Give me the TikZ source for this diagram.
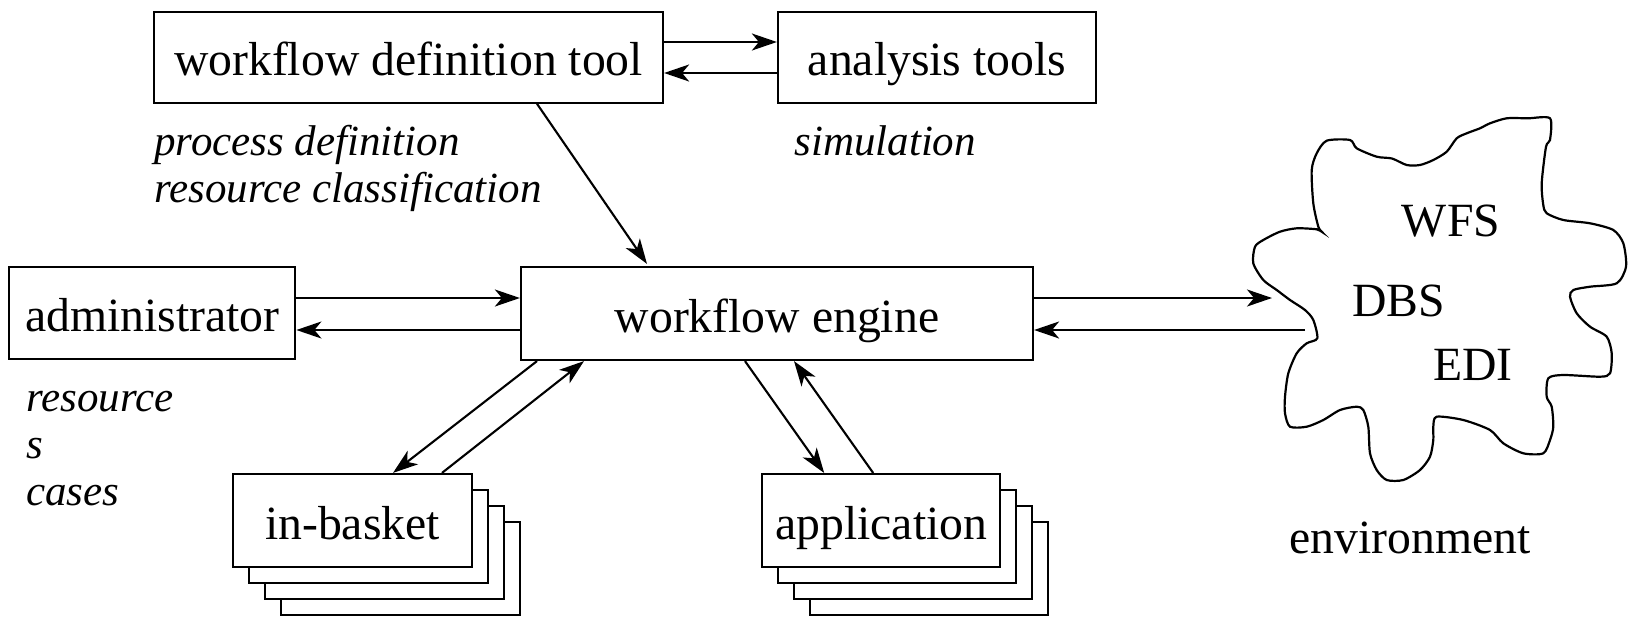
\documentclass[tikz,border=0pt]{standalone}
\usepackage{fontspec}
\setmainfont{Liberation Serif}
\usetikzlibrary{arrows.meta,calc}
\tikzset{
  box/.style={draw, line width=1.1pt, fill=white, rectangle, inner sep=0pt,
    font=\fontsize{23.85pt}{28pt}\selectfont, text height=18.5pt, text depth=0pt},
  arr/.style={line width=1.05pt, -{Stealth[length=12.5pt,width=8.5pt,inset=3.5pt]}},
  lbl/.style={inner sep=0pt, font=\fontsize{23.85pt}{28pt}\selectfont},
  itl/.style={inner sep=0pt, anchor=base west, font=\fontsize{21.5pt}{24pt}\selectfont\itshape},
}
\begin{document}
\begin{tikzpicture}[x=0.5pt,y=-0.5pt]
\useasboundingbox (0,0) rectangle (1628,616);
% boxes
\node[box, minimum width=254.5pt, minimum height=45.5pt] (wdt) at (408.5,57.2) {workflow definition tool};
\node[box, minimum width=159pt, minimum height=45.5pt] (ana) at (937,57.2) {analysis tools};
\node[box, minimum width=143pt, minimum height=46.3pt] (adm) at (152.3,313) {administrator};
\node[box, minimum width=256pt, minimum height=46.5pt] (eng) at (777,313.5) {workflow engine};
% in-basket stack
\node[box, minimum width=119.5pt, minimum height=46.5pt] (ib3) at (400.5,568.5) {};
\node[box, minimum width=119.5pt, minimum height=46.5pt] (ib2) at (384.5,552.5) {};
\node[box, minimum width=119.5pt, minimum height=46.5pt] (ib1) at (368.5,536.5) {};
\node[box, minimum width=119.5pt, minimum height=46.5pt] (ib) at (352.5,520.5) {in-basket};
% application stack
\node[box, minimum width=118.9pt, minimum height=46.6pt] (app3) at (929.2,568.7) {};
\node[box, minimum width=118.9pt, minimum height=46.6pt] (app2) at (913.2,552.7) {};
\node[box, minimum width=118.9pt, minimum height=46.6pt] (app1) at (897.2,536.7) {};
\node[box, minimum width=118.9pt, minimum height=46.6pt] (app) at (881.2,520.7) {application};
% italic labels
\node[itl] (pd) at (154,155.7) {process definition};
\node[itl] (rc) at (154,202.4) {resource classification};
\node[itl] (sim) at (794,155.7) {simulation};
\node[itl] (r1) at (26,411.7) {resource};
\node[itl] (r2) at (26,458.3) {s};
\node[itl] (r3) at (26,505) {cases};
% cloud
\draw[line width=1.1pt] plot[smooth cycle, tension=0.45] coordinates {
(1321.7,231.7) (1318.3,226.7) (1313.3,203.3) (1311.7,170) (1316.7,153.3) (1326.7,140.7)
(1350,140) (1356.7,148.3) (1376.7,156.7) (1392,158.5) (1406.7,165) (1420,165)
(1433.3,160) (1446.7,151.7) (1456.7,138.3) (1466.7,133.3) (1480,128.3) (1490,123.3)
(1506.7,118.3) (1528,118.3) (1550,118.3) (1550,140) (1546,146.7) (1541.7,183.3) (1543.3,205)
(1546.7,213.3) (1563.3,220) (1590,223.3) (1613.3,230) (1623.3,243.3) (1626,266.7)
(1616.7,283.3) (1590,286.7) (1573.3,290) (1570,296.7) (1576.7,313.3) (1590,326.7)
(1606.7,336.7) (1611.7,353.3) (1610,373.3) (1600,376.7) (1563.3,375) (1548.3,378.3)
(1546.7,396.7) (1551.7,406.7) (1553.3,426.7) (1550,440) (1543.3,453.3) (1523.3,453.3)
(1503.3,443.3) (1490,430) (1463.3,420) (1436.7,416.7) (1433.3,426.7) (1433.3,440)
(1430,456.7) (1420,470) (1403.3,480) (1386.7,480) (1376.7,470) (1370,453.3)
(1368.3,426.7) (1363.3,410) (1356.7,406.7) (1340,410) (1323.3,420) (1306.7,426.7)
(1290,426.7) (1285,413.3) (1285,396.7) (1288.3,373.3) (1296.7,353.3) (1306.7,343.3)
(1317.3,338.3) (1313.3,320) (1305,310) (1290,300) (1276.7,290) (1263.3,280)
(1253.3,263.3) (1255,246.7) (1263.3,240) (1280,231.7) (1296.7,228.3) (1316.7,229.3)};
\coordinate (cl1) at (1272,298);
\coordinate (cl2) at (1305,330);
\node[lbl, anchor=base] (wfs) at (1451,236.7) {WFS};
\node[lbl, anchor=base] (dbs) at (1398.7,316.7) {DBS};
\node[lbl, anchor=base] (edi) at (1472.8,380) {EDI};
\node[lbl, anchor=base] (env) at (1410,553.4) {environment};
% connectors
\draw[arr] ($(wdt.east)+(0,-15.2)$) -- ($(ana.west)+(0,-15.2)$);
\draw[arr] ($(ana.west)+(0,15.8)$) -- ($(wdt.east)+(0,15.8)$);
\draw[arr] ($(wdt.south)+(128.5,0)$) -- ($(eng.north)+(-130,-2)$);
\draw[arr] ($(adm.east)+(0,-15)$) -- ($(eng.west)+(0,-15.5)$);
\draw[arr] ($(eng.west)+(0,16.5)$) -- ($(adm.east)+(0,17)$);
\draw[arr] ($(eng.east)+(0,-15.5)$) -- (cl1);
\draw[arr] (cl2) -- ($(eng.east)+(0,16.5)$);
\draw[arr] ($(eng.south)+(-240,0)$) -- ($(ib.north)+(40.5,0)$);
\draw[arr] ($(ib.north)+(89.5,0)$) -- ($(eng.south)+(-193,0)$);
\draw[arr] ($(eng.south)+(-32,0)$) -- ($(app.north)+(-57,0)$);
\draw[arr] ($(app.north)+(-8,0)$) -- ($(eng.south)+(17,0)$);
\end{tikzpicture}
\end{document}
